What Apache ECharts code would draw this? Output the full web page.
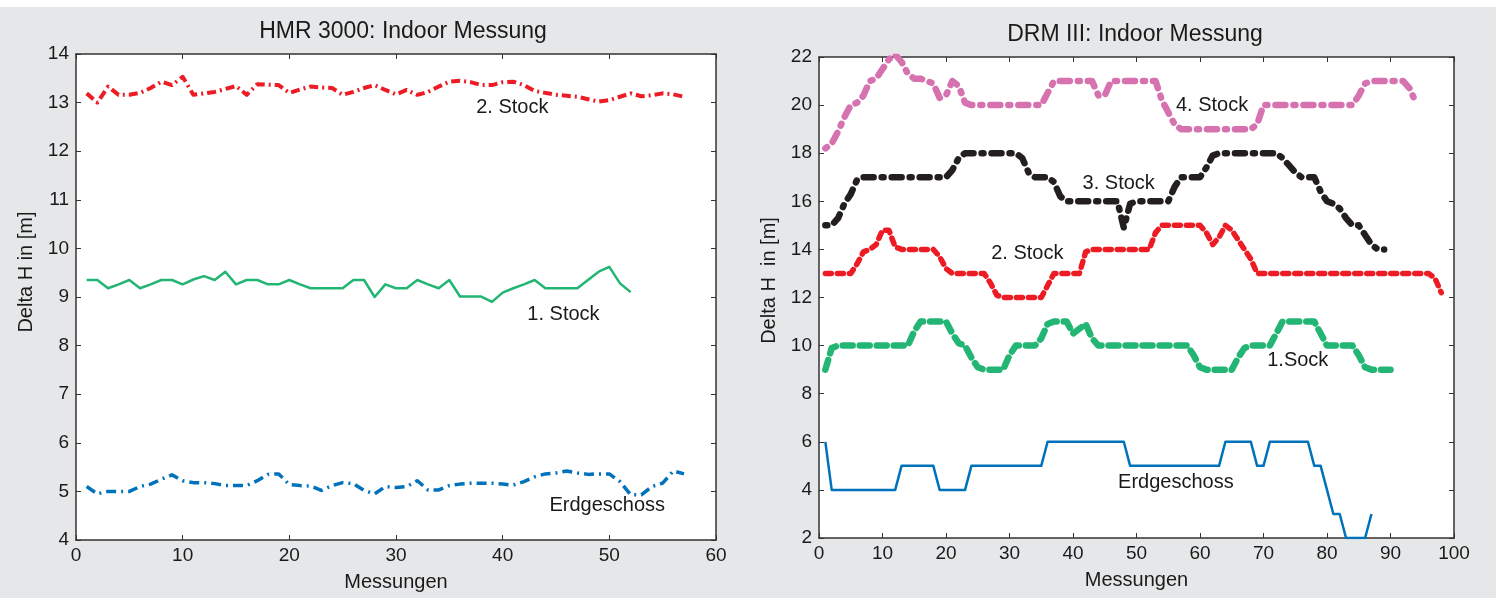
<!DOCTYPE html>
<html>
<head>
<meta charset="utf-8">
<script src="https://cdn.jsdelivr.net/npm/echarts@6/dist/echarts.min.js"></script>
<style>
  html, body { margin: 0; padding: 0; background: #fff; }
  #chart { width: 1496px; height: 598px; }
</style>
</head>
<body>
<div id="chart"></div>
<script>
// HMR 3000 (left): measurement 1..n, Delta H in m
const hmrStock2 = [13.19, 13.0, 13.33, 13.16, 13.16, 13.2, 13.3, 13.43, 13.36, 13.53,
  13.16, 13.19, 13.22, 13.28, 13.34, 13.16, 13.38, 13.37, 13.36, 13.2,
  13.27, 13.33, 13.31, 13.3, 13.16, 13.22, 13.3, 13.36, 13.26, 13.17,
  13.26, 13.16, 13.22, 13.33, 13.43, 13.45, 13.42, 13.36, 13.36, 13.42,
  13.43, 13.36, 13.24, 13.2, 13.16, 13.14, 13.12, 13.07, 13.02, 13.05,
  13.12, 13.19, 13.13, 13.15, 13.19, 13.17, 13.12];
const hmrStock1 = [9.35, 9.35, 9.18, 9.26, 9.35, 9.18, 9.26, 9.35, 9.35, 9.26,
  9.36, 9.43, 9.35, 9.52, 9.26, 9.35, 9.35, 9.26, 9.26, 9.35,
  9.26, 9.18, 9.18, 9.18, 9.18, 9.35, 9.35, 9.0, 9.26, 9.18,
  9.18, 9.35, 9.26, 9.18, 9.35, 9.01, 9.01, 9.01, 8.9, 9.09,
  9.18, 9.26, 9.35, 9.18, 9.18, 9.18, 9.18, 9.35, 9.52, 9.62,
  9.28, 9.10];
const hmrErd = [5.1, 4.95, 5.0, 5.0, 5.0, 5.1, 5.15, 5.25, 5.34, 5.22,
  5.18, 5.18, 5.16, 5.12, 5.12, 5.12, 5.22, 5.35, 5.36, 5.14,
  5.12, 5.11, 5.02, 5.12, 5.18, 5.16, 5.02, 4.95, 5.1, 5.08,
  5.1, 5.22, 5.03, 5.03, 5.12, 5.15, 5.17, 5.17, 5.17, 5.15,
  5.13, 5.2, 5.3, 5.36, 5.38, 5.42, 5.38, 5.35, 5.36, 5.36,
  5.2, 4.93, 4.93, 5.1, 5.17, 5.42, 5.36];

// DRM III (right)
const drmStock4 = [18.2, 18.4, 18.9, 19.5, 20, 20.1, 20.4, 21, 21.1, 21.5,
  21.9, 22.1, 21.8, 21.3, 21.1, 21.1, 21, 20.9, 20.3, 20.4,
  21, 20.8, 20.1, 20, 20, 20, 20, 20, 20, 20,
  20, 20, 20, 20, 20, 20.5, 21, 21, 21, 21,
  21, 21, 21, 20.4, 20.4, 21, 21, 21, 21, 21,
  21, 21, 21, 20.2, 19.7, 19.2, 19, 19, 19, 19,
  19, 19, 19, 19, 19, 19, 19, 19, 19.2, 20,
  20, 20, 20, 20, 20, 20, 20, 20, 20, 20,
  20, 20, 20, 20, 20.4, 20.9, 21, 21, 21, 21,
  21, 21, 20.7, 20.1];
const drmStock3 = [15, 15, 15.3, 15.9, 16.3, 16.9, 17, 17, 17, 17,
  17, 17, 17, 17, 17, 17, 17, 17, 17, 17,
  17.3, 17.8, 18, 18, 18, 18, 18, 18, 18, 18,
  18, 17.8, 17.2, 17, 17, 17, 16.8, 16.2, 16, 16,
  16, 16, 16, 16, 16, 16, 16, 14.9, 15.9, 16,
  16, 16, 16, 16, 16, 16.6, 17, 17, 17, 17,
  17.4, 17.9, 18, 18, 18, 18, 18, 18, 18, 18,
  18, 18, 17.8, 17.5, 17.2, 17, 17, 17, 16.4, 16,
  15.9, 15.7, 15.3, 15, 15, 14.6, 14.2, 14, 14];
const drmStock2 = [13, 13, 13, 13, 13, 13.4, 13.9, 14, 14.2, 14.8,
  14.8, 14.1, 14, 14, 14, 14, 14, 14, 13.7, 13.2,
  13, 13, 13, 13, 13, 13, 12.6, 12.1, 12, 12,
  12, 12, 12, 12, 12, 12.5, 13, 13, 13, 13,
  13, 13.9, 14, 14, 14, 14, 14, 14, 14, 14,
  14, 14, 14.7, 15, 15, 15, 15, 15, 15, 15,
  14.7, 14.2, 14.5, 15, 14.8, 14.4, 14, 13.6, 13, 13,
  13, 13, 13, 13, 13, 13, 13, 13, 13, 13,
  13, 13, 13, 13, 13, 13, 13, 13, 13, 13,
  13, 13, 13, 13, 13, 13, 12.8, 12.2];
const drmStock1 = [9, 9.9, 10, 10, 10, 10, 10, 10, 10, 10,
  10, 10, 10, 10, 10.6, 11, 11, 11, 11, 11,
  10.5, 10.1, 10, 9.5, 9.1, 9, 9, 9, 9, 9.6,
  10, 10, 10, 10, 10.3, 10.9, 11, 11, 11, 10.5,
  10.7, 10.9, 10.3, 10, 10, 10, 10, 10, 10, 10,
  10, 10, 10, 10, 10, 10, 10, 10, 9.6, 9.1,
  9, 9, 9, 9, 9, 9.5, 9.9, 10, 10, 10,
  10, 10.5, 11, 11, 11, 11, 11, 11, 10.5, 10,
  10, 10, 10, 10, 9.6, 9.1, 9, 9, 9, 9];
const drmErd = [6, 4, 4, 4, 4, 4, 4, 4, 4, 4,
  4, 4, 5, 5, 5, 5, 5, 5, 4, 4,
  4, 4, 4, 5, 5, 5, 5, 5, 5, 5,
  5, 5, 5, 5, 5, 6, 6, 6, 6, 6,
  6, 6, 6, 6, 6, 6, 6, 6, 5, 5,
  5, 5, 5, 5, 5, 5, 5, 5, 5, 5,
  5, 5, 5, 6, 6, 6, 6, 6, 5, 5,
  6, 6, 6, 6, 6, 6, 6, 5, 5, 4,
  3, 3, 2, 2, 2, 2, 3];

// text labels placed in data coordinates
const leftNotes = [[40.9, 12.89, '2. Stock'], [45.7, 8.63, '1. Stock'], [49.8, 4.70, 'Erdgeschoss']];
const rightNotes = [[61.9, 20.0, '4. Stock'], [47.2, 16.72, '3. Stock'], [32.8, 13.85, '2. Stock'],
  [75.4, 9.40, '1.Sock'], [56.2, 4.32, 'Erdgeschoss']];

const FIRST_MEASUREMENT = 1;
const FONT = '"Liberation Sans", Arial, Helvetica, sans-serif';
const TXT = '#1a1a1a';

function pts(values) {
  return values.map((v, i) => [i + FIRST_MEASUREMENT, v]);
}

function xAxisDef(gridIndex, max, position, showLabels) {
  return {
    type: 'value', gridIndex, min: 0, max, interval: 10, position,
    name: showLabels ? 'Messungen' : '', nameLocation: 'middle', nameGap: 32,
    nameTextStyle: { color: TXT, fontSize: 20, fontFamily: FONT },
    axisLine: { show: true, onZero: false, lineStyle: { color: '#333', width: 1.5 } },
    axisTick: { show: true, inside: true, length: 5, lineStyle: { color: '#333' } },
    axisLabel: { show: showLabels, color: TXT, fontSize: 19, fontFamily: FONT, margin: 6 },
    splitLine: { show: false },
  };
}

function yAxisDef(gridIndex, min, max, interval, position, name, shiftUp) {
  return {
    type: 'value', gridIndex, min, max, interval, position,
    name: name || '', nameLocation: 'middle', nameGap: 40, nameRotate: 90,
    nameTextStyle: { color: TXT, fontSize: 20, fontFamily: FONT, padding: [0, 0, 0, shiftUp || 0] },
    axisLine: { show: true, onZero: false, lineStyle: { color: '#333', width: 1.5 } },
    axisTick: { show: true, inside: true, length: 5, lineStyle: { color: '#333' } },
    axisLabel: {
      show: !!name, color: TXT, fontSize: 19, fontFamily: FONT, margin: 7,
      padding: [12, 0, 0, 0],
    },
    splitLine: { show: false },
  };
}

function lineSeries(name, xIdx, yIdx, data, color, width, type, cap) {
  return {
    name, type: 'line', xAxisIndex: xIdx, yAxisIndex: yIdx, data: pts(data),
    symbol: 'none', animation: false,
    lineStyle: { color, width, type, cap: cap || 'butt', join: 'round' },
  };
}

function notesSeries(xIdx, yIdx, notes) {
  return {
    type: 'scatter', xAxisIndex: xIdx, yAxisIndex: yIdx, data: notes,
    symbolSize: 1, itemStyle: { color: 'rgba(0,0,0,0)', opacity: 1 }, animation: false, silent: true,
    label: {
      show: true, position: 'inside', formatter: (p) => p.data[2],
      color: TXT, fontSize: 20, fontFamily: FONT, textBorderWidth: 0,
    },
  };
}

const chart = echarts.init(document.getElementById('chart'));
chart.setOption({
  backgroundColor: '#e6e7e8',
  animation: false,
  graphic: [
    { type: 'rect', left: 0, top: 0, shape: { width: 1496, height: 7 }, style: { fill: '#fff' }, silent: true },
  ],
  title: [
    { text: 'HMR 3000: Indoor Messung', left: 398, top: 15, textAlign: 'center',
      textStyle: { color: TXT, fontSize: 23, fontWeight: 'normal', fontFamily: FONT } },
    { text: 'DRM III: Indoor Messung', left: 1130, top: 18, textAlign: 'center',
      textStyle: { color: TXT, fontSize: 23, fontWeight: 'normal', fontFamily: FONT } },
  ],
  grid: [
    { left: 76, top: 54, width: 640, height: 486, show: true, backgroundColor: '#fff', borderWidth: 0 },
    { left: 819, top: 57, width: 635, height: 481, show: true, backgroundColor: '#fff', borderWidth: 0 },
  ],
  xAxis: [
    xAxisDef(0, 60, 'bottom', true),
    xAxisDef(0, 60, 'top', false),
    xAxisDef(1, 100, 'bottom', true),
    xAxisDef(1, 100, 'top', false),
  ],
  yAxis: [
    yAxisDef(0, 4, 14, 1, 'left', 'Delta H in [m]', 50),
    yAxisDef(0, 4, 14, 1, 'right', ''),
    yAxisDef(1, 2, 22, 2, 'left', 'Delta H  in [m]', 34),
    yAxisDef(1, 2, 22, 2, 'right', ''),
  ],
  series: [
    lineSeries('HMR 2. Stock', 0, 0, hmrStock2, '#ed1c24', 4, [9, 4, 2, 4]),
    lineSeries('HMR 1. Stock', 0, 0, hmrStock1, '#22b573', 2.5, 'solid'),
    lineSeries('HMR Erdgeschoss', 0, 0, hmrErd, '#0072bc', 3.5, [10, 5, 2, 5]),
    notesSeries(0, 0, leftNotes),
    lineSeries('DRM 4. Stock', 2, 2, drmStock4, '#d672b0', 6.5, [2, 8, 10, 8], 'round'),
    lineSeries('DRM 3. Stock', 2, 2, drmStock3, '#231f20', 6.5, [2, 8, 10, 8], 'round'),
    lineSeries('DRM 2. Stock', 2, 2, drmStock2, '#ed1c24', 5.5, [6, 6], 'round'),
    lineSeries('DRM 1. Stock', 2, 2, drmStock1, '#22b573', 6.5, [10, 7], 'round'),
    lineSeries('DRM Erdgeschoss', 2, 2, drmErd, '#0072bc', 2.5, 'solid'),
    notesSeries(2, 2, rightNotes),
  ],
});
</script>
</body>
</html>
